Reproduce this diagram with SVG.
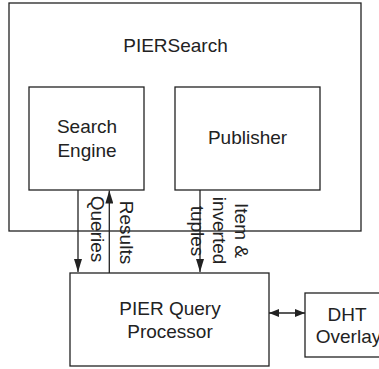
<svg xmlns="http://www.w3.org/2000/svg" width="379" height="369" viewBox="0 0 379 369">
  <style>
    .box { fill: #fff; stroke: #222; stroke-width: 1.3; }
    .lbl { font-family: "Liberation Sans", Arial, sans-serif; font-size: 19px; fill: #222; text-anchor: middle; }
    .wire { fill: none; stroke: #222; stroke-width: 1.3; }
  </style>
  <defs>
    <marker id="arrow" viewBox="0 0 13 8" refX="13" refY="4" markerWidth="13" markerHeight="8" markerUnits="userSpaceOnUse" orient="auto-start-reverse">
      <path d="M0,0 L13,4 L0,8 z" fill="#222"/>
    </marker>
    <marker id="arrowShort" viewBox="0 0 10 8" refX="10" refY="4" markerWidth="10" markerHeight="8" markerUnits="userSpaceOnUse" orient="auto-start-reverse">
      <path d="M0,0 L10,4 L0,8 z" fill="#222"/>
    </marker>
  </defs>

  <rect width="379" height="369" fill="#fff"/>

  <!-- outer container -->
  <g id="piersearch">
    <rect class="box" x="9" y="3" width="352" height="228"/>
    <text class="lbl" x="175.5" y="52">PIERSearch</text>
  </g>

  <g id="search-engine">
    <rect class="box" x="29" y="87" width="115" height="103"/>
    <text class="lbl" x="87" y="133">Search</text>
    <text class="lbl" x="87" y="157">Engine</text>
  </g>

  <g id="publisher">
    <rect class="box" x="175" y="87" width="145" height="103"/>
    <text class="lbl" x="247.5" y="144">Publisher</text>
  </g>

  <g id="query-processor">
    <rect class="box" x="70" y="273" width="199" height="93"/>
    <text class="lbl" x="170" y="315">PIER Query</text>
    <text class="lbl" x="170" y="338">Processor</text>
  </g>

  <g id="dht-overlay">
    <rect class="box" x="305" y="293" width="86" height="64"/>
    <text class="lbl" x="347" y="321">DHT</text>
    <text class="lbl" x="348.5" y="343">Overlay</text>
  </g>

  <!-- connectors -->
  <g id="connectors">
    <line class="wire" x1="78" y1="190" x2="78" y2="272" marker-end="url(#arrow)"/>
    <line class="wire" x1="109.3" y1="273" x2="109.3" y2="190.5" marker-end="url(#arrow)"/>
    <line class="wire" x1="200" y1="190" x2="200" y2="272" marker-end="url(#arrow)"/>
    <line class="wire" x1="269" y1="313" x2="305" y2="313" marker-start="url(#arrowShort)" marker-end="url(#arrowShort)"/>

    <text class="lbl" transform="translate(90.5,229) rotate(90)">Queries</text>
    <text class="lbl" transform="translate(120,232.5) rotate(90)">Results</text>
    <text class="lbl" transform="translate(235,230.5) rotate(90)">Item &amp;</text>
    <text class="lbl" transform="translate(213,230.5) rotate(90)">inverted</text>
    <text class="lbl" transform="translate(191,231) rotate(90)">tuples</text>
  </g>
</svg>
